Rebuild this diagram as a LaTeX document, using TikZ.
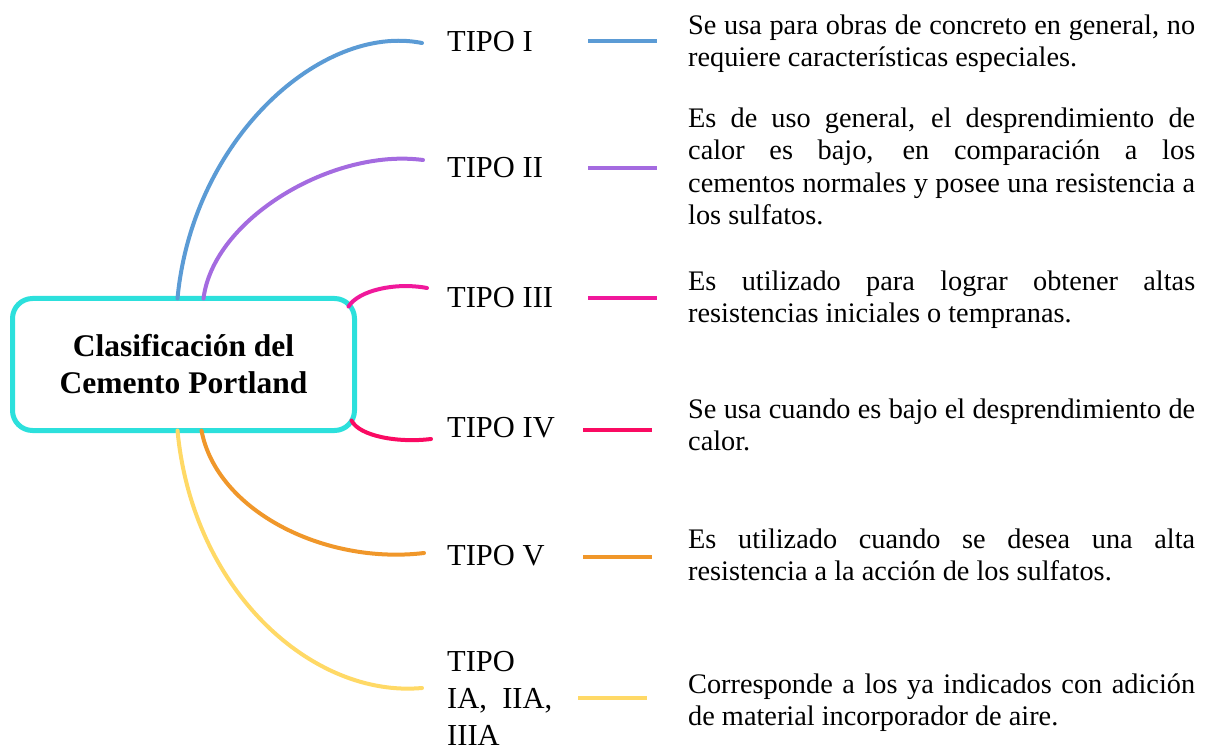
\documentclass[tikz,border=0pt]{standalone}
\usepackage{fontspec}
\setmainfont{Liberation Serif}
\definecolor{boxcyan}{HTML}{2CE0DC}
\definecolor{cblue}{HTML}{5B9BD5}
\definecolor{cpurple}{HTML}{A46BE0}
\definecolor{cmagenta}{HTML}{F0189B}
\definecolor{cred}{HTML}{FA0A62}
\definecolor{corange}{HTML}{F0972A}
\definecolor{cyellow}{HTML}{FFD966}
\begin{document}
\begin{tikzpicture}[x=1pt,y=-1pt,
		tipo/.style={anchor=west, inner sep=0pt, align=left, font=\fontsize{30.5}{37}\selectfont},
		desc/.style={anchor=north west, inner sep=0pt, text width=507pt, align=justify, font=\fontsize{28.3}{32.5}\selectfont},
		branch/.style={line width=4pt, line cap=round},
		tick/.style={line width=4.5pt}]
		\useasboundingbox (0,0) rectangle (1205,751);
		
		% Central box
		\node[draw=boxcyan, line width=5pt, rounded corners=20pt, outer sep=0pt,
		minimum width=342pt, minimum height=132pt, align=center,
		font=\fontsize{31.5}{37}\selectfont\bfseries] (box) at (183.5,364.5) {Clasificación del\\Cemento Portland};
		
		% Types
		\node[tipo] (t1) at (447,42) {TIPO I};
		\node[tipo] (t2) at (447,168) {TIPO II};
		\node[tipo] (t3) at (447,298) {TIPO III};
		\node[tipo] (t4) at (447,428) {TIPO IV};
		\node[tipo] (t5) at (447,556) {TIPO V};
		\node[tipo] (t6) at (447,698) {TIPO\\IA,\ \ IIA,\\IIIA};
		
		% Descriptions
		\node[desc] (d1) at (688,11.3) {\strut Se usa para obras de concreto en general, no\linebreak requiere características especiales.};
		\node[desc] (d2) at (688,104.3) {\strut Es de uso general, el desprendimiento de\linebreak calor es bajo, en comparación a los\linebreak cementos normales y posee una resistencia a\linebreak los sulfatos.};
		\node[desc] (d3) at (688,267.3) {\strut Es utilizado para lograr obtener altas\linebreak resistencias iniciales o tempranas.};
		\node[desc] (d4) at (688,395.3) {\strut Se usa cuando es bajo el desprendimiento de\linebreak calor.};
		\node[desc] (d5) at (688,525.3) {\strut Es utilizado cuando se desea una alta\linebreak resistencia a la acción de los sulfatos.};
		\node[desc] (d6) at (688,670.3) {\strut Corresponde a los ya indicados con adición\linebreak de material incorporador de aire.};
		
		% Branches from the box
		\draw[branch, cblue] ([xshift=-6pt]box.north) .. controls +(15,-160) and +(-100,-20) .. ([shift={(-25,1)}]t1.west);
		\draw[branch, cpurple] ([xshift=20pt]box.north) .. controls +(10,-80) and +(-90,-12) .. ([shift={(-24,-8)}]t2.west);
		\draw[branch, cmagenta] ([shift={(-6,8)}]box.north east) .. controls +(10,-16) and +(-32,-6) .. ([shift={(-20,-10)}]t3.west);
		\draw[branch, cred] ([shift={(-3,-10)}]box.south east) .. controls +(8,16) and +(-32,4) .. ([shift={(-16,11)}]t4.west);
		\draw[branch, corange] ([xshift=18pt]box.south) .. controls +(15,80) and +(-100,12) .. ([shift={(-23,-3)}]t5.west);
		\draw[branch, cyellow] ([xshift=-6pt]box.south) .. controls +(15,160) and +(-110,10) .. ([shift={(-25,-10)}]t6.west);
		
		% Short marks before the descriptions
		\draw[tick, cblue] ([shift={(141,-1)}]t1.west) -- ++(69,0);
		\draw[tick, cpurple] ([xshift=141pt]t2.west) -- ++(69,0);
		\draw[tick, cmagenta] ([xshift=141pt]t3.west) -- ++(69,0);
		\draw[tick, cred] ([shift={(136,2)}]t4.west) -- ++(69,0);
		\draw[tick, corange] ([shift={(136,1)}]t5.west) -- ++(69,0);
		\draw[tick, cyellow] ([shift={(131,0)}]t6.west) -- ++(69,0);
		
	\end{tikzpicture}
\end{document}
